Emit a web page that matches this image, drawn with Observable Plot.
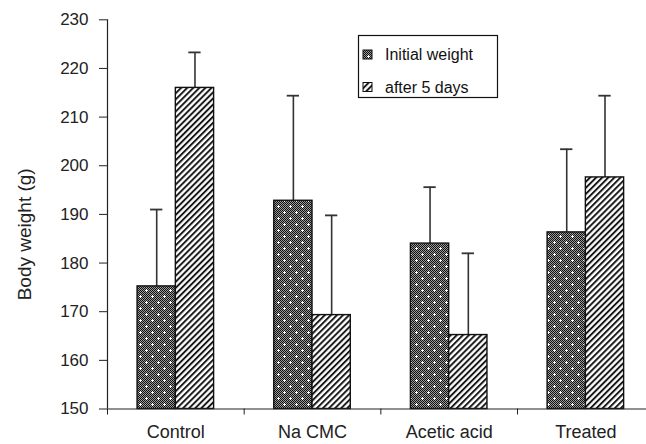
<!DOCTYPE html>
<html><head><meta charset="utf-8">
<script src="https://cdn.jsdelivr.net/npm/d3@7"></script>
<script src="https://cdn.jsdelivr.net/npm/@observablehq/plot@0.6"></script>
<style>body{margin:0;background:#fff}</style>
</head><body><div id="chart"></div>
<script>
const categories = ["Control", "Na CMC", "Acetic acid", "Treated"];
const series = ["Initial weight", "after 5 days"];
const initialWeight = [175.2, 192.8, 184.0, 186.3];
const initialErr = [15.8, 21.6, 11.6, 17.1];
const after5Days = [216.0, 169.3, 165.2, 197.6];
const after5Err = [7.3, 20.5, 16.8, 16.8];
const yTicks = [150, 160, 170, 180, 190, 200, 210, 220, 230];
const yLabel = "Body weight (g)";

const rows = [];
categories.forEach((c, i) => {
  rows.push({category: c, idx: i, series: series[0], value: initialWeight[i], err: initialErr[i], side: -1});
  rows.push({category: c, idx: i, series: series[1], value: after5Days[i], err: after5Err[i], side: 0});
});

const barW = 0.28;
const capW = 0.045;
const barX1 = d => d.idx + 0.5 + d.side * barW;
const barX2 = d => barX1(d) + barW;
const barXc = d => barX1(d) + barW / 2;
const errTop = d => d.value + d.err;

function defs() {
  const g = d3.create("svg:defs");
  const P = 12;
  const dots = g.append("pattern").attr("id", "dots").attr("width", P).attr("height", P).attr("patternUnits", "userSpaceOnUse");
  dots.append("rect").attr("width", P).attr("height", P).attr("fill", "#9a9a9a");
  let dk = "";
  for (let yy = 0; yy < P; yy++) for (let xx = (yy % 2); xx < P; xx += 2) dk += `M${xx},${yy}h1v1h-1z`;
  dots.append("path").attr("d", dk).attr("fill", "#111").attr("shape-rendering", "crispEdges");
  const plus = (cx, cy) => `M${cx},${cy - 1}h1v1h1v1h-1v1h-1v-1h-1v-1h1z`;
  dots.append("path").attr("d", plus(2, 2) + plus(8, 8)).attr("fill", "#fff").attr("shape-rendering", "crispEdges");
  const hatch = g.append("pattern").attr("id", "hatch").attr("width", 4.3).attr("height", 4.3)
    .attr("patternUnits", "userSpaceOnUse").attr("patternTransform", "rotate(45)");
  hatch.append("rect").attr("width", 4.3).attr("height", 4.3).attr("fill", "#fff");
  hatch.append("line").attr("x1", 1).attr("x2", 1).attr("y1", 0).attr("y2", 4.3).attr("stroke", "#111").attr("stroke-width", 1.9);
  return g.node();
}

const chart = Plot.plot({
  width: 646,
  height: 444,
  marginLeft: 107,
  marginRight: 0,
  marginTop: 19.3,
  marginBottom: 35.5,
  style: {fontFamily: "'Liberation Sans', Arial, sans-serif", fontSize: "17px", color: "#222", background: "#fff"},
  x: {domain: [0, 4], range: [107, 653.7]},
  y: {domain: [150, 230]},
  marks: [
    defs,
    Plot.ruleX(rows, {x: barXc, y1: "value", y2: errTop, stroke: "#333", strokeWidth: 1.6}),
    Plot.ruleY(rows, {y: errTop, x1: d => barXc(d) - capW, x2: d => barXc(d) + capW, stroke: "#333", strokeWidth: 1.8}),
    Plot.rectY(rows.filter(d => d.series === series[0]), {x1: barX1, x2: barX2, y1: 150, y2: "value", fill: "url(#dots)", stroke: "#111", strokeWidth: 1.4}),
    Plot.rectY(rows.filter(d => d.series === series[1]), {x1: barX1, x2: barX2, y1: 150, y2: "value", fill: "url(#hatch)", stroke: "#111", strokeWidth: 1.4}),
    Plot.ruleX([0], {stroke: "#222", strokeWidth: 1.2}),
    Plot.ruleY([150], {stroke: "#222", strokeWidth: 1.2}),
    Plot.axisY({ticks: yTicks, tickSize: 8, tickPadding: 11, fontSize: 17, label: null}),
    Plot.axisX({ticks: [0, 1, 2, 3, 4], tickSize: 6, tickFormat: () => ""}),
    Plot.axisX({ticks: categories.map((c, i) => i + 0.5), tickSize: 0, tickPadding: 16, fontSize: 18, label: null,
      tickFormat: d => categories[Math.floor(d)]}),
    Plot.text([yLabel], {frameAnchor: "left", y: 185.9, rotate: -90, dx: -83, textAnchor: "middle", fontSize: 19, fill: "#222"})
  ]
});

// legend
const svg = d3.select(chart);
const lg = svg.append("g").attr("font-family", "'Liberation Sans', Arial, sans-serif").attr("font-size", 16)
  .attr("fill", "#111").attr("text-anchor", "start");
lg.append("rect").attr("x", 358.5).attr("y", 35.5).attr("width", 139).attr("height", 62).attr("fill", "#fff").attr("stroke", "#111").attr("stroke-width", 1.2);
const fills = ["url(#dots)", "url(#hatch)"];
series.forEach((s, i) => {
  const cy = 54.5 + i * 32.5;
  lg.append("rect").attr("x", 363).attr("y", cy - 4.5).attr("width", 9).attr("height", 9).attr("fill", fills[i]).attr("stroke", "#111").attr("stroke-width", 1);
  lg.append("text").attr("x", 385).attr("y", cy).attr("dy", "0.35em").text(s);
});

document.getElementById("chart").appendChild(chart);
</script>
</body></html>
